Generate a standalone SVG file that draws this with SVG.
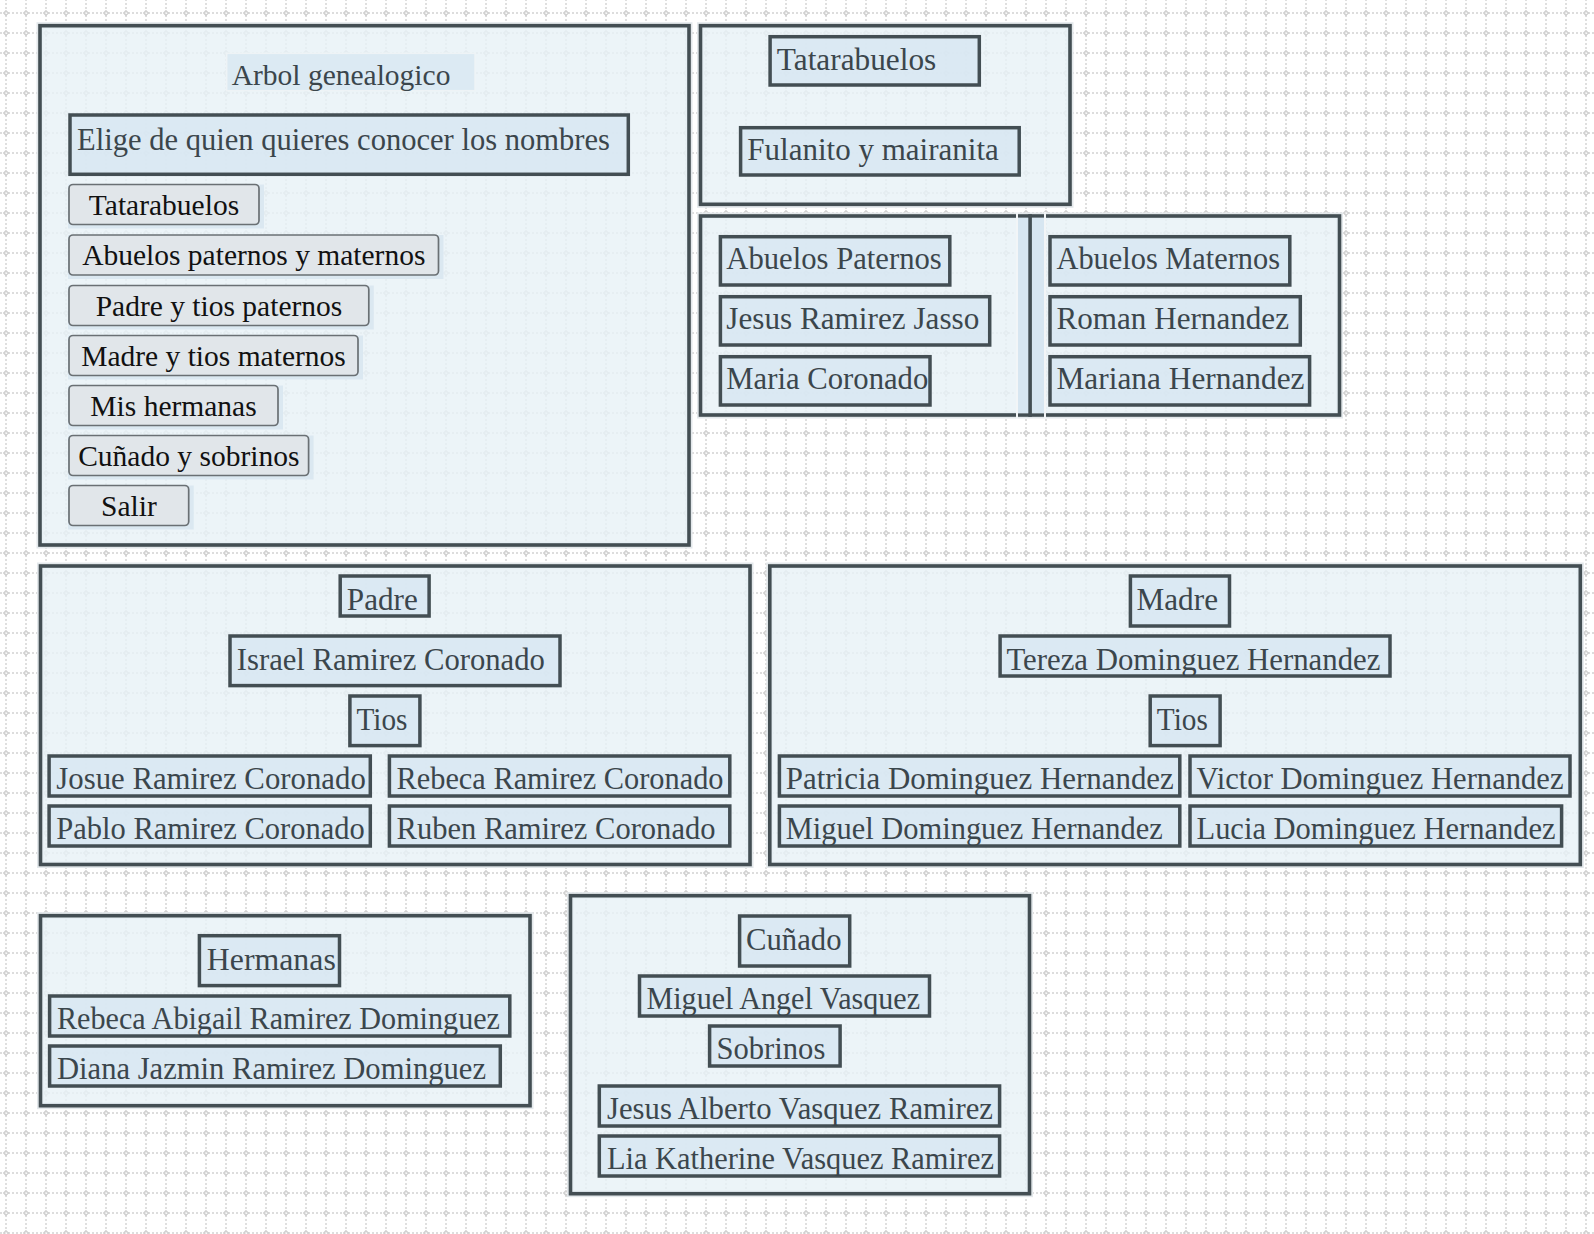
<svg xmlns="http://www.w3.org/2000/svg" width="1594" height="1234" viewBox="0 0 1594 1234">
<defs>
<pattern id="grid" x="-4" y="3" width="20" height="20" patternUnits="userSpaceOnUse">
<path d="M0 10H20M10 0V20" stroke="#d2d2d2" stroke-width="1.4" stroke-dasharray="2 2" fill="none"/>
<path d="M10 7.6L12.4 10L10 12.4L7.6 10Z" fill="#ffffff" fill-opacity="0.4" stroke="#cccccc" stroke-width="1.1"/>
</pattern>
<style>
.halo{fill:none;stroke:#e3e8eb;stroke-width:7}
.panel{fill:#e8f1f6;fill-opacity:0.82;stroke:#434e53;stroke-width:3.6}
.lbl{fill:#d6e6f1;fill-opacity:0.75;stroke:#434e53;stroke-width:3.5}
.t{font-family:"Liberation Serif","DejaVu Serif",serif;font-size:30.6px;fill:#3b464c}
.title{font-family:"Liberation Serif","DejaVu Serif",serif;font-size:29.5px;fill:#3b464c}
.btn{fill:#e1e6ea;stroke:#6a7074;stroke-width:1.7}
.bh{fill:#dbe8f1}
.bt{font-family:"Liberation Serif","DejaVu Serif",serif;font-size:29.5px;fill:#111111;text-anchor:middle}
</style>
</defs>
<rect width="1594" height="1234" fill="#ffffff"/>
<rect width="1594" height="1234" fill="url(#grid)"/>

<g id="panel-menu">
<rect class="halo" x="40" y="25.7" width="649" height="519.3"/>
<rect class="panel" x="40" y="25.7" width="649" height="519.3"/>
<g id="title">
<rect x="226.7" y="53.3" width="248.3" height="37.4" fill="#dceaf3" stroke="#eef3f6" stroke-width="1.5"/>
<text class="title" x="231.7" y="85">Arbol genealogico</text>
</g>
<g id="elige">
<rect class="lbl" x="70" y="115" width="558.3" height="59.3"/>
<text class="t" x="77" y="150" textLength="533" lengthAdjust="spacingAndGlyphs">Elige de quien quieres conocer los nombres</text>
</g>
<g id="btn-tatarabuelos">
<rect class="bh" x="68" y="184.5" width="196" height="44"/>
<rect class="btn" x="69" y="184.5" width="190" height="40" rx="4"/>
<text class="bt" x="164" y="214.8">Tatarabuelos</text>
</g>
<g id="btn-abuelos">
<rect class="bh" x="68" y="235" width="375.5" height="44"/>
<rect class="btn" x="69" y="235" width="369.5" height="40" rx="4"/>
<text class="bt" x="253.8" y="265.3">Abuelos paternos y maternos</text>
</g>
<g id="btn-padre">
<rect class="bh" x="68" y="285.5" width="305.8" height="44"/>
<rect class="btn" x="69" y="285.5" width="299.8" height="40" rx="4"/>
<text class="bt" x="219" y="315.8">Padre y tios paternos</text>
</g>
<g id="btn-madre">
<rect class="bh" x="68" y="335.5" width="295" height="44"/>
<rect class="btn" x="69" y="335.5" width="289" height="40" rx="4"/>
<text class="bt" x="213.5" y="365.8">Madre y tios maternos</text>
</g>
<g id="btn-hermanas">
<rect class="bh" x="68" y="385.5" width="215" height="44"/>
<rect class="btn" x="69" y="385.5" width="209" height="40" rx="4"/>
<text class="bt" x="173.5" y="415.8">Mis hermanas</text>
</g>
<g id="btn-cunado">
<rect class="bh" x="68" y="435.5" width="245.6" height="44"/>
<rect class="btn" x="69" y="435.5" width="239.6" height="40" rx="4"/>
<text class="bt" x="188.8" y="465.8">Cuñado y sobrinos</text>
</g>
<g id="btn-salir">
<rect class="bh" x="68" y="485.5" width="125.7" height="44"/>
<rect class="btn" x="69" y="485.5" width="119.7" height="40" rx="4"/>
<text class="bt" x="128.9" y="515.8">Salir</text>
</g>
</g>

<g id="panel-tatarabuelos">
<rect class="halo" x="700.5" y="25.7" width="369.5" height="178.6"/>
<rect class="panel" x="700.5" y="25.7" width="369.5" height="178.6"/>
<g id="lbl-tatarabuelos"><rect class="lbl" x="770.1" y="36.7" width="209.2" height="48.3"/><text class="t" x="776.8" y="70" textLength="159.5" lengthAdjust="spacingAndGlyphs">Tatarabuelos</text></g>
<g id="lbl-fulanito"><rect class="lbl" x="740.6" y="127.7" width="278.6" height="47.3"/><text class="t" x="747.3" y="160" textLength="251.5" lengthAdjust="spacingAndGlyphs">Fulanito y mairanita</text></g>
</g>

<g id="panel-abuelos">
<rect class="halo" x="700.5" y="216" width="639" height="199"/>
<rect class="panel" x="700.5" y="216" width="639" height="199"/>
<rect x="1018" y="217.8" width="26" height="195.4" fill="#d7e6f1"/>
<rect x="1028.3" y="214.2" width="3.6" height="202.6" fill="#434e53"/>
<rect x="1016" y="212" width="2" height="207" fill="#f2f5f7"/>
<rect x="1044" y="212" width="2" height="207" fill="#f2f5f7"/>
<g id="lbl-abuelos-paternos"><rect class="lbl" x="720.4" y="236.7" width="229.4" height="48.3"/><text class="t" x="726.3" y="269" textLength="215.5" lengthAdjust="spacingAndGlyphs">Abuelos Paternos</text></g>
<g id="lbl-jesus-ramirez-jasso"><rect class="lbl" x="720.4" y="296.7" width="269.3" height="48.3"/><text class="t" x="726.3" y="329" textLength="253" lengthAdjust="spacingAndGlyphs">Jesus Ramirez Jasso</text></g>
<g id="lbl-maria-coronado"><rect class="lbl" x="720.4" y="356.7" width="209.6" height="48.3"/><text class="t" x="726.3" y="389" textLength="202" lengthAdjust="spacingAndGlyphs">Maria Coronado</text></g>
<g id="lbl-abuelos-maternos"><rect class="lbl" x="1050" y="236.7" width="239.8" height="48.3"/><text class="t" x="1056.5" y="269" textLength="223.5" lengthAdjust="spacingAndGlyphs">Abuelos Maternos</text></g>
<g id="lbl-roman-hernandez"><rect class="lbl" x="1050" y="296.7" width="250.3" height="48.3"/><text class="t" x="1056.5" y="329" textLength="232.5" lengthAdjust="spacingAndGlyphs">Roman Hernandez</text></g>
<g id="lbl-mariana-hernandez"><rect class="lbl" x="1050" y="356.7" width="259.6" height="48.3"/><text class="t" x="1056.5" y="389" textLength="248" lengthAdjust="spacingAndGlyphs">Mariana Hernandez</text></g>
</g>

<g id="panel-padre">
<rect class="halo" x="40.5" y="566" width="709.5" height="298.5"/>
<rect class="panel" x="40.5" y="566" width="709.5" height="298.5"/>
<g id="lbl-padre"><rect class="lbl" x="340.2" y="576" width="88.9" height="40"/><text class="t" x="346.8" y="610" textLength="71" lengthAdjust="spacingAndGlyphs">Padre</text></g>
<g id="lbl-israel"><rect class="lbl" x="230" y="636" width="330" height="49.6"/><text class="t" x="236.8" y="669.5" textLength="308" lengthAdjust="spacingAndGlyphs">Israel Ramirez Coronado</text></g>
<g id="lbl-tios-p"><rect class="lbl" x="349.9" y="696" width="70" height="49.6"/><text class="t" x="356.5" y="729.5" textLength="51" lengthAdjust="spacingAndGlyphs">Tios</text></g>
<g id="lbl-josue"><rect class="lbl" x="49.1" y="756" width="321.2" height="40"/><text class="t" x="56.3" y="789" textLength="309.5" lengthAdjust="spacingAndGlyphs">Josue Ramirez Coronado</text></g>
<g id="lbl-rebeca-rc"><rect class="lbl" x="389.4" y="756" width="340.4" height="40"/><text class="t" x="396.5" y="789" textLength="327" lengthAdjust="spacingAndGlyphs">Rebeca Ramirez Coronado</text></g>
<g id="lbl-pablo"><rect class="lbl" x="49.1" y="806" width="321.2" height="40"/><text class="t" x="56.3" y="839" textLength="308.5" lengthAdjust="spacingAndGlyphs">Pablo Ramirez Coronado</text></g>
<g id="lbl-ruben"><rect class="lbl" x="389.4" y="806" width="340.4" height="40"/><text class="t" x="396.5" y="839" textLength="319" lengthAdjust="spacingAndGlyphs">Ruben Ramirez Coronado</text></g>
</g>

<g id="panel-madre">
<rect class="halo" x="769.8" y="566" width="810.5" height="298.5"/>
<rect class="panel" x="769.8" y="566" width="810.5" height="298.5"/>
<g id="lbl-madre"><rect class="lbl" x="1130.4" y="576" width="99.1" height="50"/><text class="t" x="1136.5" y="610" textLength="81.5" lengthAdjust="spacingAndGlyphs">Madre</text></g>
<g id="lbl-tereza"><rect class="lbl" x="1000.1" y="636" width="389.9" height="40"/><text class="t" x="1006.4" y="669.5" textLength="374" lengthAdjust="spacingAndGlyphs">Tereza Dominguez Hernandez</text></g>
<g id="lbl-tios-m"><rect class="lbl" x="1150.2" y="696" width="69.9" height="49.6"/><text class="t" x="1156.8" y="729.5" textLength="51" lengthAdjust="spacingAndGlyphs">Tios</text></g>
<g id="lbl-patricia"><rect class="lbl" x="779.4" y="756" width="400.4" height="40"/><text class="t" x="785.8" y="789" textLength="388" lengthAdjust="spacingAndGlyphs">Patricia Dominguez Hernandez</text></g>
<g id="lbl-victor"><rect class="lbl" x="1190" y="756" width="380" height="40"/><text class="t" x="1196.5" y="789" textLength="367" lengthAdjust="spacingAndGlyphs">Victor Dominguez Hernandez</text></g>
<g id="lbl-miguel-d"><rect class="lbl" x="779.4" y="806" width="400.4" height="40"/><text class="t" x="785.8" y="839" textLength="377" lengthAdjust="spacingAndGlyphs">Miguel Dominguez Hernandez</text></g>
<g id="lbl-lucia"><rect class="lbl" x="1190" y="806" width="371.6" height="40"/><text class="t" x="1196.5" y="839" textLength="359" lengthAdjust="spacingAndGlyphs">Lucia Dominguez Hernandez</text></g>
</g>

<g id="panel-hermanas">
<rect class="halo" x="40.5" y="915.7" width="489.5" height="190"/>
<rect class="panel" x="40.5" y="915.7" width="489.5" height="190"/>
<g id="lbl-hermanas"><rect class="lbl" x="199.4" y="935.7" width="140.1" height="49.9"/><text class="t" x="206.8" y="969.5" textLength="129" lengthAdjust="spacingAndGlyphs">Hermanas</text></g>
<g id="lbl-rebeca-abigail"><rect class="lbl" x="49.6" y="996" width="460.2" height="40"/><text class="t" x="57" y="1029" textLength="443" lengthAdjust="spacingAndGlyphs">Rebeca Abigail Ramirez Dominguez</text></g>
<g id="lbl-diana"><rect class="lbl" x="49.6" y="1046" width="450.7" height="40"/><text class="t" x="57" y="1079" textLength="429" lengthAdjust="spacingAndGlyphs">Diana Jazmin Ramirez Dominguez</text></g>
</g>

<g id="panel-cunado">
<rect class="halo" x="570.5" y="895.7" width="459" height="298"/>
<rect class="panel" x="570.5" y="895.7" width="459" height="298"/>
<g id="lbl-cunado"><rect class="lbl" x="739.6" y="916" width="110.1" height="50"/><text class="t" x="746" y="949.5" textLength="95.5" lengthAdjust="spacingAndGlyphs">Cuñado</text></g>
<g id="lbl-miguel-angel"><rect class="lbl" x="639.5" y="976" width="290" height="40"/><text class="t" x="646.5" y="1009" textLength="273.5" lengthAdjust="spacingAndGlyphs">Miguel Angel Vasquez</text></g>
<g id="lbl-sobrinos"><rect class="lbl" x="709.6" y="1026" width="130.5" height="40"/><text class="t" x="716.5" y="1059" textLength="108.8" lengthAdjust="spacingAndGlyphs">Sobrinos</text></g>
<g id="lbl-jesus-alberto"><rect class="lbl" x="599.3" y="1086" width="400.3" height="40"/><text class="t" x="607" y="1119" textLength="386" lengthAdjust="spacingAndGlyphs">Jesus Alberto Vasquez Ramirez</text></g>
<g id="lbl-lia"><rect class="lbl" x="599.3" y="1136" width="400.3" height="40"/><text class="t" x="607" y="1169" textLength="387" lengthAdjust="spacingAndGlyphs">Lia Katherine Vasquez Ramirez</text></g>
</g>

<g id="connectors"></g>
</svg>
